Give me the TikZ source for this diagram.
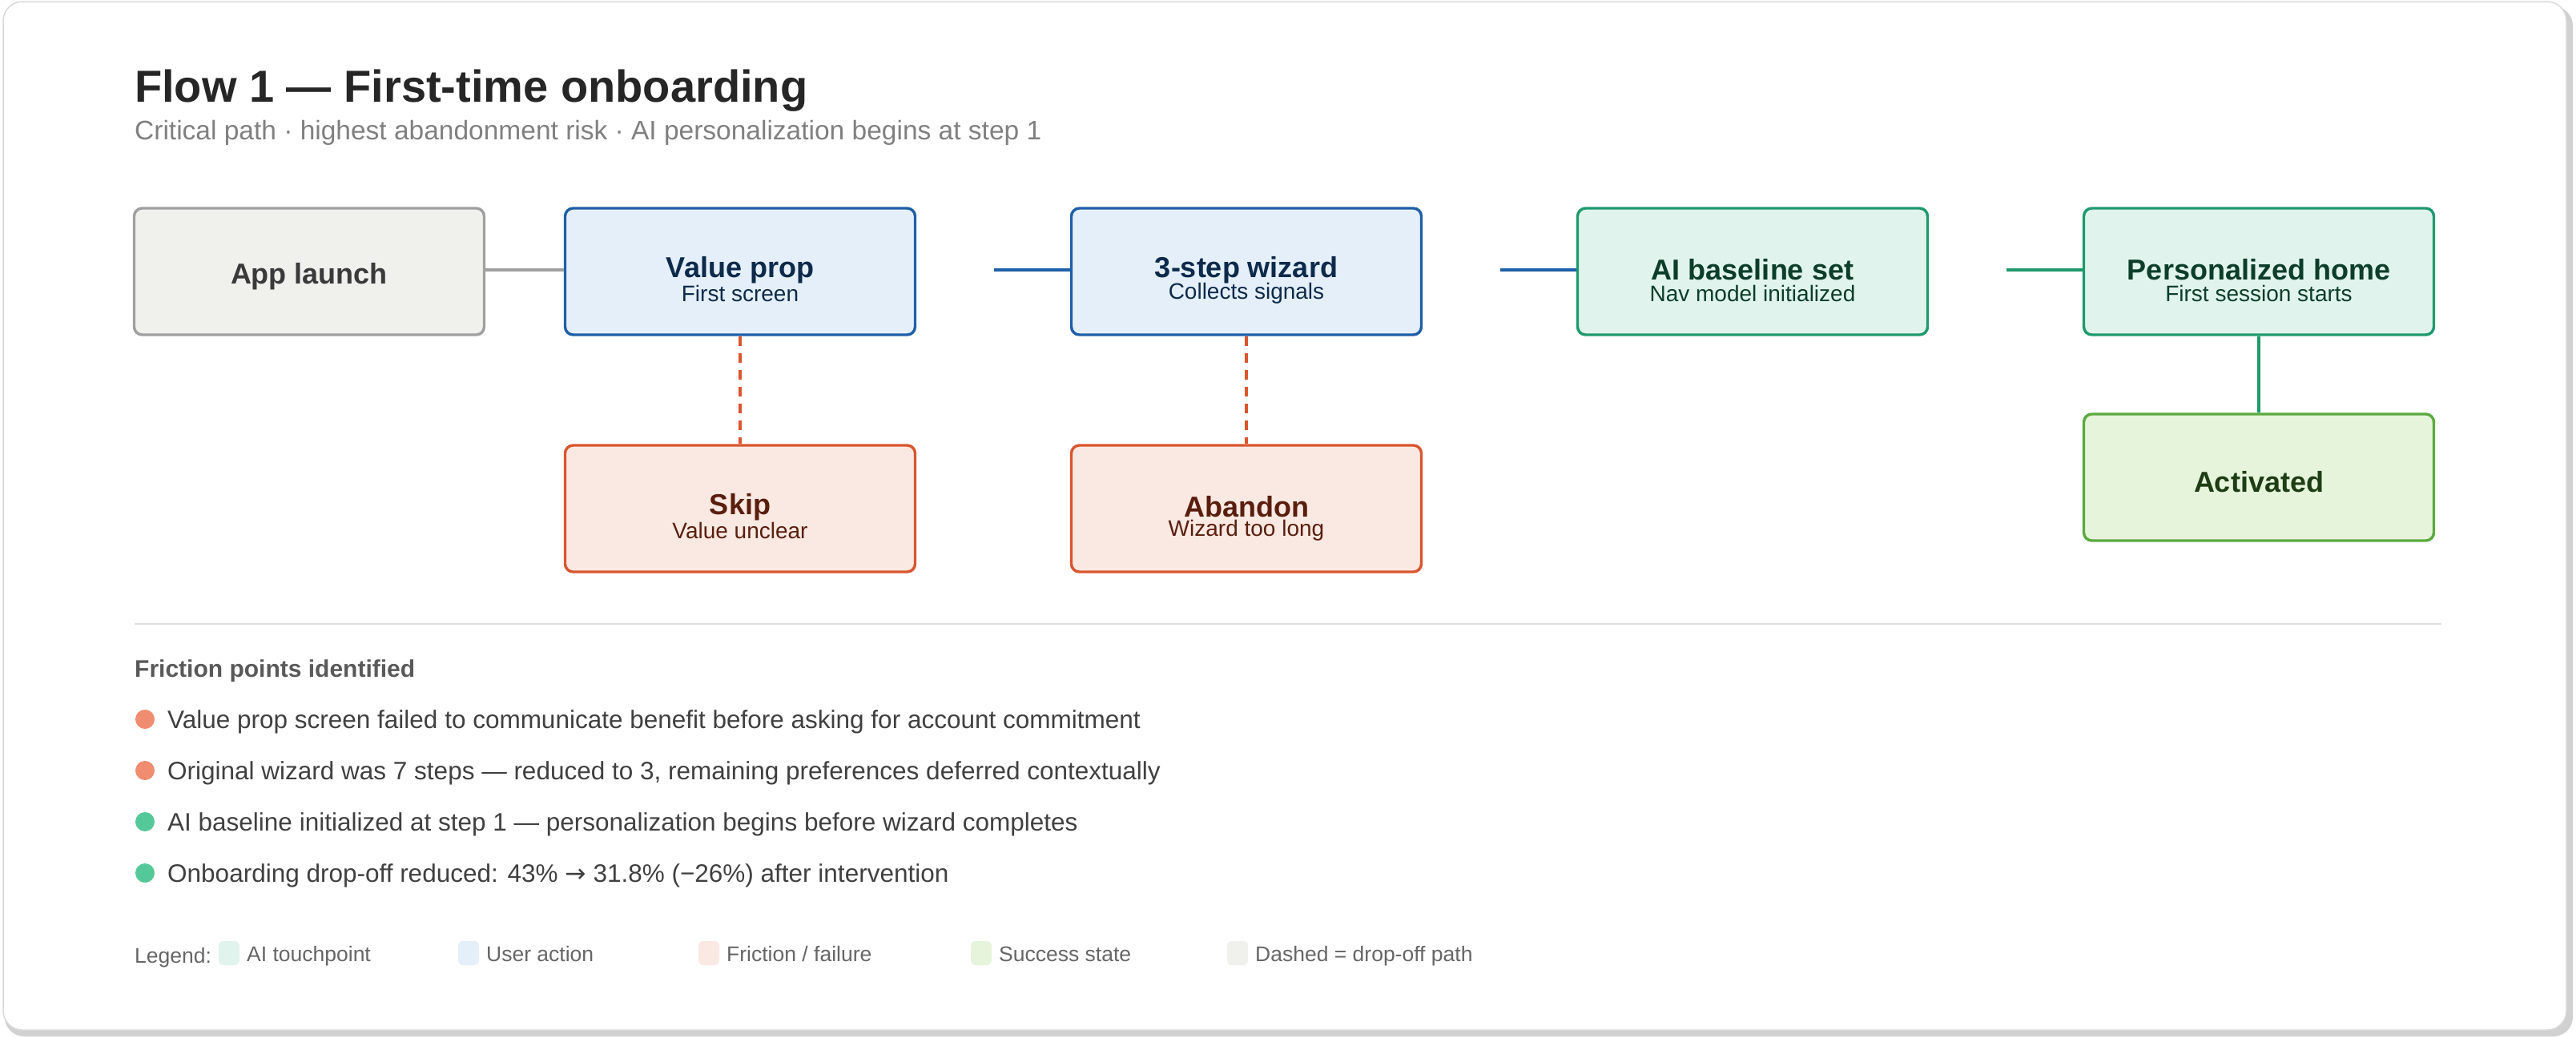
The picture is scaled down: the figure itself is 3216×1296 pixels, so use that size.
\documentclass[tikz,border=0pt]{standalone}
\usepackage{fontspec}
\setmainfont{Liberation Sans}
\newfontfamily\djv{DejaVu Sans}
\begin{document}
\definecolor{bluB}{HTML}{1F5FA8}\definecolor{bluF}{HTML}{E5EFF9}\definecolor{bluT}{HTML}{0D2A4A}
\definecolor{redB}{HTML}{D9562E}\definecolor{redF}{HTML}{FAE9E3}\definecolor{redT}{HTML}{5A1E0E}
\definecolor{aiB}{HTML}{1F9A6E}\definecolor{aiF}{HTML}{E0F4ED}\definecolor{aiT}{HTML}{0D3D2B}
\definecolor{okB}{HTML}{5AAA3E}\definecolor{okF}{HTML}{E6F4DC}\definecolor{okT}{HTML}{1E3D14}
\definecolor{gyB}{HTML}{A0A0A0}\definecolor{gyF}{HTML}{F0F0EC}\definecolor{gyT}{HTML}{3A3A3A}
\definecolor{salm}{HTML}{F08C70}\definecolor{mint}{HTML}{55C89A}
\begin{tikzpicture}[x=1pt,y=-1pt,
 box/.style={rectangle,rounded corners=10pt,minimum width=437pt,minimum height=158pt,line width=3.4pt,inner sep=0pt},
 ttl/.style={font=\bfseries\fontsize{36}{37}\selectfont,inner sep=0pt},
 sub/.style={font=\fontsize{28}{29}\selectfont,inner sep=0pt},
 bul/.style={font=\fontsize{31.5}{33}\selectfont,anchor=base west,inner sep=0pt,text=black!75},
 leg/.style={font=\fontsize{26.5}{28}\selectfont,anchor=base west,inner sep=0pt,text=black!60},
 sw/.style={rectangle,rounded corners=6pt,minimum width=26pt,minimum height=30pt,inner sep=0pt}]
\useasboundingbox (0,0) rectangle (3216,1296);
\fill[black!18,rounded corners=24pt] (6,8) rectangle (3212,1294);
\draw[black!15,fill=white,line width=1.5pt,rounded corners=24pt] (4,2) rectangle (3204,1286);
\node[anchor=base west,inner sep=0pt,font=\bfseries\fontsize{56}{58}\selectfont,text=black!85] (title) at (168,127) {Flow 1 — First-time onboarding};
\node[anchor=west,inner sep=0pt,font=\fontsize{33.5}{35}\selectfont,text=black!50] (subt) at (168,166) {Critical path · highest abandonment risk · AI personalization begins at step 1};
% boxes
\node[box,draw=gyB,fill=gyF] (app) at (386,339) {};
\node[ttl,text=gyT] (appT) at (386,345) {App launch};
\node[box,draw=bluB,fill=bluF] (vp) at (924,339) {};
\node[ttl,text=bluT] (vpT) at (924,337) {Value prop};
\node[sub,text=bluT] (vpS) at (924,366) {First screen};
\node[box,draw=bluB,fill=bluF] (wz) at (1556,339) {};
\node[ttl,text=bluT] (wzT) at (1556,337) {3-step wizard};
\node[sub,text=bluT] (wzS) at (1556,366) {Collects signals};
\node[box,draw=aiB,fill=aiF] (ai) at (2188,339) {};
\node[ttl,text=aiT] (aiT) at (2188,337) {AI baseline set};
\node[sub,text=aiT] (aiS) at (2188,366) {Nav model initialized};
\node[box,draw=aiB,fill=aiF] (ph) at (2820,339) {};
\node[ttl,text=aiT] (phT) at (2820,337) {Personalized home};
\node[sub,text=aiT] (phS) at (2820,366) {First session starts};
\node[box,draw=redB,fill=redF] (sk) at (924,635) {};
\node[ttl,text=redT] (skT) at (924,633) {Skip};
\node[sub,text=redT] (skS) at (924,662) {Value unclear};
\node[box,draw=redB,fill=redF] (ab) at (1556,635) {};
\node[ttl,text=redT] (abT) at (1556,633) {Abandon};
\node[sub,text=redT] (abS) at (1556,662) {Wizard too long};
\node[box,draw=okB,fill=okF] (ac) at (2820,596) {};
\node[ttl,text=okT] (acT) at (2820,602) {Activated};
% connectors
\coordinate (c1) at (1241,337);
\coordinate (c2) at (1873,337);
\coordinate (c3) at (2505,337);
\draw[gyB,line width=3.4pt] (app.east|-0,337) -- (vp.west|-0,337);
\draw[bluB,line width=3.4pt] (c1) -- (wz.west|-c1);
\draw[bluB,line width=3.4pt] (c2) -- (ai.west|-c2);
\draw[aiB,line width=3.4pt] (c3) -- (ph.west|-c3);
\draw[redB,line width=3.2pt,dash pattern=on 12pt off 9pt] (vp.south) -- (sk.north);
\draw[redB,line width=3.2pt,dash pattern=on 12pt off 9pt] (wz.south) -- (ab.north);
\draw[aiB,line width=3.4pt] (ph.south) -- (ac.north);
% divider
\draw[black!12,line width=2pt] (168,779) -- (3048,779);
\node[anchor=west,inner sep=0pt,font=\bfseries\fontsize{30}{32}\selectfont,text=black!65] (fp) at (168,838) {Friction points identified};
\foreach \y/\c/\t [count=\i] in {898/salm/{Value prop screen failed to communicate benefit before asking for account commitment},
 962/salm/{Original wizard was 7 steps — reduced to 3, remaining preferences deferred contextually},
 1026/mint/{AI baseline initialized at step 1 — personalization begins before wizard completes},
 1090/mint/{Onboarding drop-off reduced: 43\% {\djv →} 31.8\% (−26\%) after intervention}}{
 \node[circle,fill=\c,minimum size=24pt,inner sep=0pt] (d\i) at (181,\y) {};
 \node[bul] (b\i) at (209,\y+11) {\t};
}
\node[leg] (lg) at (168,1202) {Legend:};
\foreach \x/\c/\t [count=\i] in {273/aiF/{AI touchpoint},572/bluF/{User action},872/redF/{Friction / failure},1212/okF/{Success state},1532/gyF/{Dashed = drop-off path}}{
 \node[sw,fill=\c] (s\i) at (\x+13,1190) {};
 \node[leg] (l\i) at (\x+35,1200) {\t};
}
\end{tikzpicture}
\end{document}
